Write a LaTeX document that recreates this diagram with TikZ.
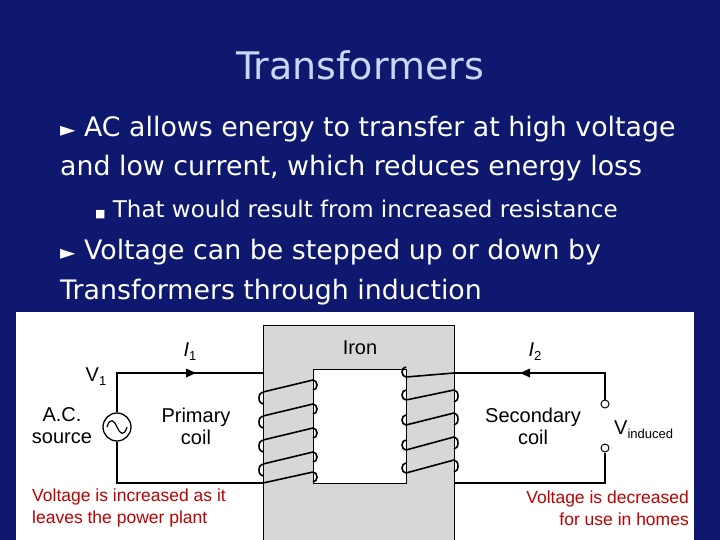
\documentclass[tikz,border=0pt]{standalone}
\usepackage{fontspec}
\setmainfont{DejaVu Sans}
\newfontfamily\arial{Liberation Sans}
\begin{document}
\begin{tikzpicture}[x=1pt,y=-1pt,
  txt/.style={text=white,anchor=west,inner sep=0,font=\fontsize{26.8}{30}\selectfont},
  dtxt/.style={inner sep=0,font=\arial\fontsize{20}{22}\selectfont},
  red/.style={inner sep=0,text={rgb,255:red,190;green,0;blue,0},font=\arial\fontsize{17.5}{22}\selectfont,align=left},
  wire/.style={line width=1.6pt,black},
  loopc/.style={line width=1.6pt,black}]
\fill[fill={rgb,255:red,14;green,24;blue,110}] (0,0) rectangle (720,540);
\useasboundingbox (0,0) rectangle (720,540);
\node[inner sep=0,text={rgb,255:red,200;green,215;blue,245},font=\fontsize{38}{42}\selectfont] (title) at (360,65) {Transformers};
\node[txt] (b1) at (60,129) {\fontsize{20}{20}\selectfont►\fontsize{26.8}{30}\selectfont\ AC allows energy to transfer at high voltage};
\node[txt] (b1b) at (60,168) {and low current, which reduces energy loss};
\node[txt,font=\fontsize{23}{26}\selectfont] (b2) at (95,209) {\fontsize{11}{11}\selectfont■\fontsize{23}{26}\selectfont\ That would result from increased resistance};
\node[txt] (b3) at (60,252) {\fontsize{20}{20}\selectfont►\fontsize{26.8}{30}\selectfont\ Voltage can be stepped up or down by};
\node[txt] (b3b) at (60,292) {Transformers through induction};
% panel
\fill[white] (16,312) rectangle (694,540);
% iron
\fill[fill={rgb,255:red,215;green,215;blue,215},draw=black,line width=1pt] (263,325) -- (454,325) -- (454,541) -- (263,541) -- cycle;
\fill[white,draw=black,line width=1pt] (313,369) rectangle (406,483);
% primary circuit
\coordinate (pt) at (263,373);
\coordinate (pb) at (263,483);
\coordinate (lt) at (117,373);
\coordinate (lb) at (117,483);
\node[circle,draw,line width=1.3pt,minimum size=28pt,inner sep=0] (src) at (117,427) {};
\draw[wire] (src) -- (lt) -- (pt);
\draw[wire] (src) -- (lb) -- (pb);
\draw[black,line width=1.2pt] (107,427) .. controls (110,417) and (114,420) .. (117,427) .. controls (120,434) and (124,437) .. (127,427);
\fill (196,373) -- (186,368.5) -- (186,377.5) -- cycle;
% primary coil
\foreach \o/\i in {392/380,416/404,440/428,464/452,483/472}{
  \draw[loopc] (263,\o) -- (313,\i);}
\foreach \o in {392,416,440,464}{
  \draw[loopc] (263,\o) arc (90:270:4 and -6);}
\foreach \i in {380,404,428,452,472}{
  \draw[loopc] (313,\i) arc (90:-90:4 and -5);}
% secondary
\coordinate (st) at (454,373);
\coordinate (sb) at (454,483);
\coordinate (rt) at (605,373);
\coordinate (rb) at (605,483);
\node[circle,draw,line width=1pt,fill=white,minimum size=8pt,inner sep=0] (t1) at (605,404) {};
\node[circle,draw,line width=1pt,fill=white,minimum size=8pt,inner sep=0] (t2) at (605,448) {};
\draw[wire] (st) -- (rt) -- (t1);
\draw[wire] (sb) -- (rb) -- (t2);
\fill (520,373) -- (530,368.5) -- (530,377.5) -- cycle;
\foreach \i/\o in {377/373,400/390,425/413,450/437,473/460}{
  \draw[loopc] (406,\i) -- (454,\o);}
\foreach \i in {377,400,425,450,473}{
  \draw[loopc] (406,\i) arc (270:90:4 and -5);}
\foreach \o in {390,413,437,460}{
  \draw[loopc] (454,\o) arc (90:-90:4 and -6);}
% labels
\node[dtxt] (i1) at (190,352) {\textit{I}\raisebox{-4pt}{\fontsize{13}{13}\selectfont 1}};
\node[dtxt] (i2) at (535,352) {\textit{I}\raisebox{-4pt}{\fontsize{13}{13}\selectfont 2}};
\node[dtxt] (iron) at (360,348) {Iron};
\node[dtxt] (v1) at (96,377) {V\raisebox{-4pt}{\fontsize{13}{13}\selectfont 1}};
\node[dtxt,align=center] (acs) at (62,426) {A.C.\\source};
\node[dtxt,align=center] (pc) at (196,426) {Primary\\coil};
\node[dtxt,align=center] (sc) at (533,426) {Secondary\\coil};
\node[dtxt,anchor=west] (vi) at (614,430) {V\raisebox{-4pt}{\fontsize{13}{13}\selectfont induced}};
\node[red,anchor=west] (r1) at (32,508) {Voltage is increased as it\\leaves the power plant};
\node[red,anchor=east,align=right] (r2) at (689,508) {Voltage is decreased\\for use in homes};
\end{tikzpicture}
\end{document}
